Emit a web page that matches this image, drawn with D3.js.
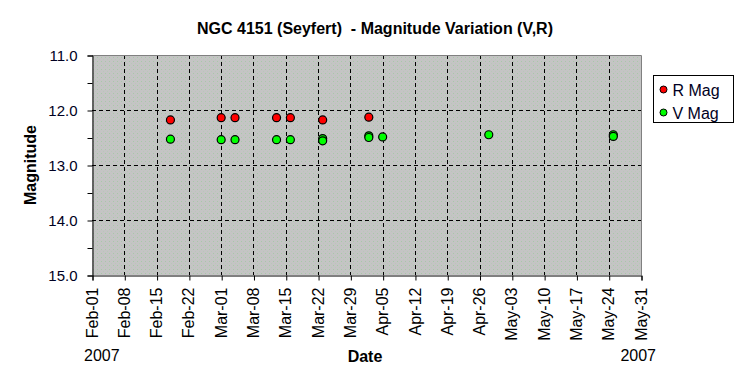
<!DOCTYPE html>
<html>
<head>
<meta charset="utf-8">
<script src="https://cdn.jsdelivr.net/npm/d3@7"></script>
<style>
  body { margin: 0; background: #fff; }
  text { font-family: Arial, "Liberation Sans", sans-serif; }
</style>
</head>
<body>
<svg id="chart" width="748" height="385"></svg>
<script>
const rDates = ["2007-02-18", "2007-03-01", "2007-03-04", "2007-03-13", "2007-03-16", "2007-03-23", "2007-04-02"];
const rMag = [12.18, 12.14, 12.14, 12.14, 12.14, 12.18, 12.13];

const vDates = ["2007-02-18", "2007-03-01", "2007-03-04", "2007-03-13", "2007-03-16", "2007-03-23", "2007-03-23", "2007-04-02", "2007-04-02", "2007-04-05", "2007-04-28", "2007-05-25", "2007-05-25"];
const vMag = [12.53, 12.54, 12.54, 12.54, 12.54, 12.52, 12.56, 12.47, 12.50, 12.49, 12.45, 12.45, 12.48];

const yTicks = [11, 12, 13, 14, 15];
const seriesNames = ["R Mag", "V Mag"];
const seriesColors = ["#ff0000", "#00ff00"];

const parse = d3.timeParse("%Y-%m-%d");
const svg = d3.select("#chart");

const plotLeft = 92, plotRight = 641, plotTop = 55, plotBottom = 275;

const x = d3.scaleTime()
  .domain([parse("2007-02-01"), parse("2007-05-31")])
  .range([plotLeft, plotRight]);

const y = d3.scaleLinear()
  .domain([11, 15])
  .range([plotTop, plotBottom]);

const xTicks = d3.timeDay.range(parse("2007-02-01"), parse("2007-06-01"), 7);

// background pattern
const defs = svg.append("defs");
const pat = defs.append("pattern")
  .attr("id", "bgpat")
  .attr("width", 4)
  .attr("height", 4)
  .attr("patternUnits", "userSpaceOnUse");
pat.append("rect").attr("width", 4).attr("height", 4).attr("fill", "#c4c4c4");
pat.append("rect").attr("x", 1).attr("y", 1).attr("width", 1).attr("height", 1).attr("fill", "#a8c8a8");
pat.append("rect").attr("x", 3).attr("y", 3).attr("width", 1).attr("height", 1).attr("fill", "#b8c8b8");

svg.append("rect")
  .attr("x", plotLeft)
  .attr("y", plotTop)
  .attr("width", plotRight - plotLeft)
  .attr("height", plotBottom - plotTop)
  .attr("fill", "url(#bgpat)");

// grid
svg.append("g")
  .selectAll("line")
  .data(xTicks.slice(1, -1))
  .join("line")
  .attr("x1", (d) => Math.round(x(d)) + 0.5)
  .attr("x2", (d) => Math.round(x(d)) + 0.5)
  .attr("y1", plotTop)
  .attr("y2", plotBottom)
  .attr("stroke", "#000")
  .attr("stroke-dasharray", "4,3");

svg.append("g")
  .selectAll("line")
  .data(yTicks.slice(1, -1))
  .join("line")
  .attr("x1", plotLeft)
  .attr("x2", plotRight)
  .attr("y1", (d) => Math.round(y(d)) + 0.5)
  .attr("y2", (d) => Math.round(y(d)) + 0.5)
  .attr("stroke", "#000")
  .attr("stroke-dasharray", "4,3");

// plot border (top/right grey)
svg.append("path")
  .attr("d", `M${plotLeft},${plotTop + 0.5}H${plotRight + 0.5}V${plotBottom}`)
  .attr("fill", "none")
  .attr("stroke", "#808080");

// y axis
const yAxis = svg.append("g")
  .attr("transform", `translate(${plotLeft + 0.5},0.5)`)
  .call(d3.axisLeft(y).tickValues(yTicks).tickFormat(d3.format(".1f")).tickSize(5).tickPadding(10));
svg.append("g")
  .attr("transform", `translate(${plotLeft + 0.5},0.5)`)
  .call(d3.axisLeft(y).tickValues([11.5, 12.5, 13.5, 14.5]).tickFormat("").tickSize(5))
  .select(".domain").remove();

// x axis
const xAxis = svg.append("g")
  .attr("transform", `translate(0.5,${plotBottom + 0.5})`)
  .call(d3.axisBottom(x).tickValues(xTicks).tickFormat(d3.timeFormat("%b-%d")).tickSize(5).tickPadding(6));
xAxis.selectAll("text")
  .attr("transform", "rotate(-90)")
  .attr("text-anchor", "end")
  .attr("dy", "0.35em")
  .attr("x", -12)
  .attr("y", -1);

svg.selectAll(".tick text").attr("font-size", 16).attr("fill", "#000").attr("font-family", "Arial, 'Liberation Sans', sans-serif");
yAxis.selectAll("text").attr("font-size", 15).attr("fill", "#000022");
svg.selectAll(".domain").attr("stroke", "#000");
svg.selectAll(".tick line").attr("stroke", "#000");

// points
const rData = rDates.map((d, i) => ({ date: parse(d), mag: rMag[i] }));
const vData = vDates.map((d, i) => ({ date: parse(d), mag: vMag[i] }));

[rData, vData].forEach((data, si) => {
  svg.append("g")
    .selectAll("circle")
    .data(data)
    .join("circle")
    .attr("cx", (d) => x(d.date))
    .attr("cy", (d) => y(d.mag))
    .attr("r", 4)
    .attr("fill", seriesColors[si])
    .attr("stroke", "#000")
    .attr("stroke-width", 1.2);
});

// title and labels
svg.append("text")
  .attr("x", 375)
  .attr("y", 34)
  .attr("text-anchor", "middle")
  .attr("font-size", 16)
  .attr("font-weight", "bold")
  .text("NGC 4151 (Seyfert)  - Magnitude Variation (V,R)")
  .style("white-space", "pre");

svg.append("text")
  .attr("transform", `translate(36,${(plotTop + plotBottom) / 2}) rotate(-90)`)
  .attr("text-anchor", "middle")
  .attr("font-size", 16)
  .attr("font-weight", "bold")
  .text("Magnitude");

svg.append("text")
  .attr("x", 365)
  .attr("y", 362)
  .attr("text-anchor", "middle")
  .attr("font-size", 16)
  .attr("font-weight", "bold")
  .text("Date");

svg.append("text")
  .attr("x", 84)
  .attr("y", 361)
  .attr("font-size", 16)
  .text("2007");

svg.append("text")
  .attr("x", 656)
  .attr("y", 361)
  .attr("text-anchor", "end")
  .attr("font-size", 16)
  .text("2007");

// legend
const legend = svg.append("g").attr("transform", "translate(653.5,75.5)");
legend.append("rect")
  .attr("width", 80)
  .attr("height", 47)
  .attr("fill", "#fff")
  .attr("stroke", "#000");

const items = legend.selectAll("g.item")
  .data(seriesNames)
  .join("g")
  .attr("class", "item")
  .attr("transform", (d, i) => `translate(0,${14 + i * 23})`);
items.append("circle")
  .attr("cx", 10)
  .attr("cy", 0)
  .attr("r", 3.5)
  .attr("fill", (d, i) => seriesColors[i])
  .attr("stroke", "#000");
items.append("text")
  .attr("x", 19)
  .attr("y", 6)
  .attr("font-size", 16)
  .attr("fill", "#000022")
  .text((d) => d);
</script>
</body>
</html>
